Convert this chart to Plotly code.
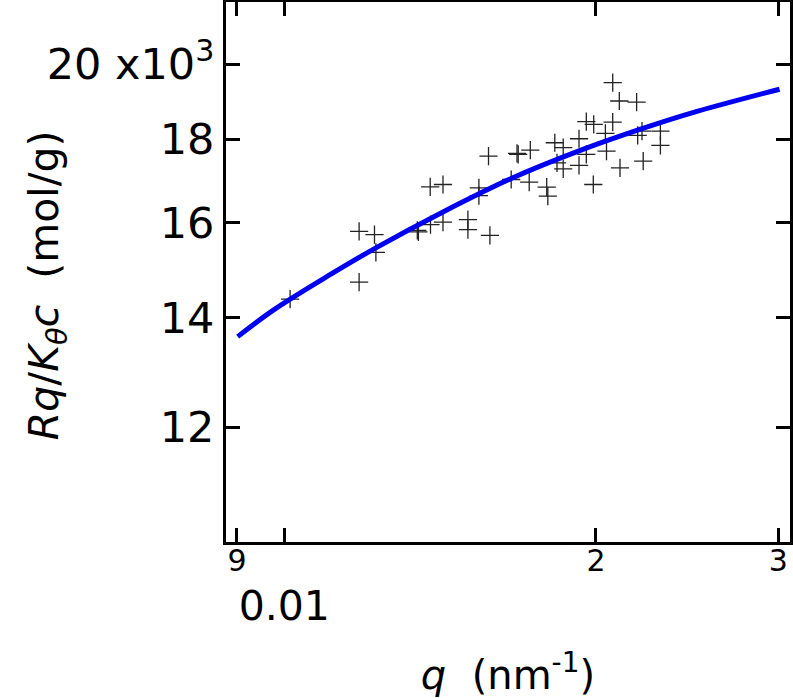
import plotly.graph_objects as go

# measured data (q in nm^-1, R/Kc in mol/g)
q_data = [0.010130, 0.011810, 0.012221, 0.012259, 0.011810, 0.013442, 0.013475,
          0.013842, 0.014232, 0.015043, 0.015043, 0.015797, 0.013833, 0.014232,
          0.015415, 0.015415, 0.015748, 0.016563, 0.016823, 0.016778, 0.017282,
          0.017240, 0.017924, 0.017968, 0.018250, 0.018594, 0.018339, 0.018594,
          0.019259, 0.019259, 0.019574, 0.019881, 0.019574, 0.019899, 0.020473,
          0.020423, 0.020758, 0.020758, 0.021064, 0.021891, 0.021097, 0.021944,
          0.022155, 0.022214, 0.023080, 0.023080]
r_data = [14373, 15811, 15738, 15351, 14722, 15833, 15797,
          15961, 16015, 16073, 15849, 15722, 16832, 16887,
          16808, 16627, 17575, 17006, 17617, 17642, 17724,
          16944, 16823, 16611, 17909, 17784, 17410, 17264,
          18010, 17346, 17617, 16887, 18446, 18379, 17699,
          18145, 18438, 19489, 18991, 18964, 17288, 18094,
          18206, 17452, 18206, 17841]

# fitted curve
q_fit = [0.0090155, 0.0097670, 0.011082, 0.012259, 0.014232, 0.016563,
         0.019259, 0.022155, 0.025038, 0.030080]
r_fit = [13634, 14158, 14881, 15448, 16248, 17030, 17704, 18265, 18715, 19309]

x_tickvals = [0.009, 0.01, 0.02, 0.03]
x_ticktext = ["9", " ", "2", "3"]
x_decade_vals = [0.01]
x_decade_text = ["0.01"]
y_tickvals = [12000, 14000, 16000, 18000, 20000]
y_ticktext = ["12", "14", "16", "18", "20 x10<sup>3</sup>"]

FONT = "DejaVu Sans"
X_RANGE = [-2.05631, -1.51159]

fig = go.Figure()
fig.add_trace(go.Scatter(
    x=q_data, y=r_data, mode="markers",
    marker=dict(symbol="cross-thin", size=13, line=dict(color="#222222", width=1.3)),
    showlegend=False))
fig.add_trace(go.Scatter(
    x=q_fit, y=r_fit, mode="lines", xaxis="x2", yaxis="y",
    line=dict(color="#0000F0", width=5, shape="spline"),
    showlegend=False))

fig.update_layout(
    width=793, height=698,
    margin=dict(l=226, r=3, t=2, b=156),
    paper_bgcolor="white", plot_bgcolor="white",
    font=dict(family=FONT, color="black"),
    xaxis=dict(
        type="log", range=X_RANGE,
        tickvals=x_tickvals, ticktext=x_ticktext, tickangle=0,
        tickfont=dict(size=30, family=FONT), ticklabelstandoff=-10,
        ticks="inside", ticklen=14, tickwidth=3, tickcolor="black",
        showline=True, linewidth=3, linecolor="black", mirror="ticks",
        showgrid=False, zeroline=False, automargin=False,
        title=dict(text="<i>q</i>  (nm<sup>-1</sup>)", font=dict(size=40, family=FONT), standoff=91),
    ),
    xaxis2=dict(
        type="log", range=X_RANGE, overlaying="x", anchor="y", side="bottom",
        tickvals=x_decade_vals, ticktext=x_decade_text, tickangle=0,
        tickfont=dict(size=41, family=FONT), ticklabelstandoff=36,
        ticks="", showline=False, showgrid=False, zeroline=False, automargin=False,
    ),
    yaxis=dict(
        type="log", range=[4.00916, 4.33904],
        tickvals=y_tickvals, ticktext=y_ticktext,
        tickfont=dict(size=43, family=FONT),
        ticks="inside", ticklen=14, tickwidth=3, tickcolor="black",
        showline=True, linewidth=3, linecolor="black", mirror="ticks",
        showgrid=False, zeroline=False, automargin=False,
    ),
    annotations=[dict(
        text="<i>Rq</i>/<i>K</i><sub><i>θ</i></sub><i>c</i>  (mol/g)",
        xref="paper", yref="paper", x=-0.318, y=0.475, xanchor="center", yanchor="middle",
        textangle=-90, showarrow=False, font=dict(size=41, family=FONT, color="black"))],
)

fig.write_html("out.html", config={"displayModeBar": False},
               post_script="document.body.style.margin='0';")
